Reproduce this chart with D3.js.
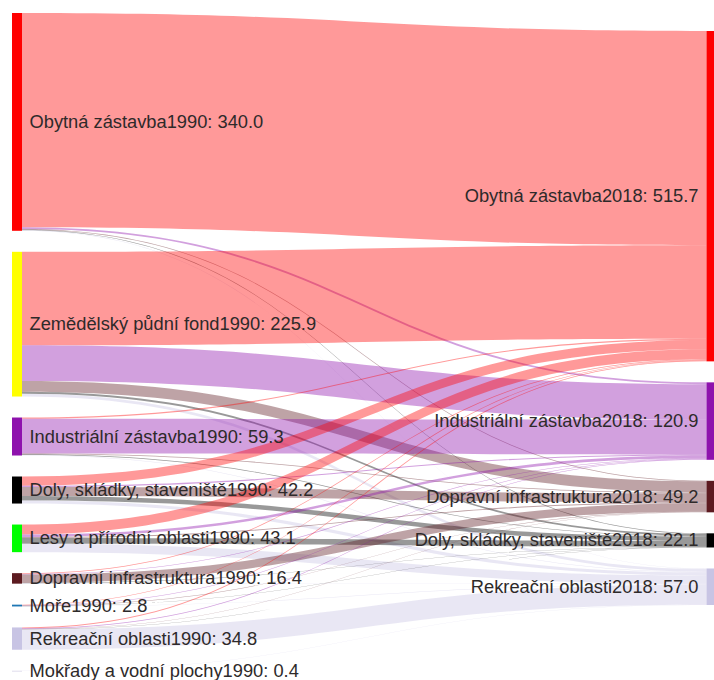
<!DOCTYPE html>
<html>
<head>
<meta charset="utf-8">
<script src="https://cdn.jsdelivr.net/npm/d3@7"></script>
<style>
  body { margin: 0; background: #fff; }
  svg text { font-family: "Liberation Sans", Arial, sans-serif; }
</style>
</head>
<body>
<svg id="chart" width="714" height="680"></svg>
<script>
// Land-use categories in 1990 (left column) and 2018 (right column)
const sources1990 = [
  "Obytná zástavba1990",
  "Zemědělský půdní fond1990",
  "Industriální zástavba1990",
  "Doly, skládky, staveniště1990",
  "Lesy a přírodní oblasti1990",
  "Dopravní infrastruktura1990",
  "Moře1990",
  "Rekreační oblasti1990",
  "Mokřady a vodní plochy1990"
];
const sourceColors = ["#ff0000", "#ffff00", "#8e12ad", "#000000", "#00ff00", "#5c1a20", "#1f77b4", "#c8c4e4", "#d6d4e8"];

const targets2018 = [
  "Obytná zástavba2018",
  "Industriální zástavba2018",
  "Dopravní infrastruktura2018",
  "Doly, skládky, staveniště2018",
  "Rekreační oblasti2018"
];
const targetColors = ["#ff0000", "#8e12ad", "#5c1a20", "#000000", "#c8c4e4"];

// Area moved from each 1990 category (row) into each 2018 category (column)
const flowsObytna      = [334.5,  2.8,  1.0, 1.0,  0.7];
const flowsZemedelsky  = [146.0, 55.5, 17.1, 2.8,  4.5];
const flowsIndustrialni= [  1.8, 54.2,  1.5, 1.0,  0.8];
const flowsDoly        = [ 14.5,  1.8, 14.0, 7.0,  4.9];
const flowsLesy        = [ 15.5,  4.0,  1.5, 9.0, 13.1];
const flowsDopravni    = [  1.2,  1.0, 13.0, 0.7,  0.5];
const flowsMore        = [  0.8,  0.7,  0.5, 0.3,  0.5];
const flowsRekreacni   = [  1.4,  0.9,  0.6, 0.3, 31.6];
const flowsMokrady     = [  0.0,  0.0,  0.0, 0.0,  0.4];

const flowMatrix = [flowsObytna, flowsZemedelsky, flowsIndustrialni, flowsDoly,
  flowsLesy, flowsDopravni, flowsMore, flowsRekreacni, flowsMokrady];

// ---- layout ----
const svg = d3.select("#chart");
const nodeWidth = 10;
const nodePad = 21;
const leftX0 = 12, rightX0 = 706.5;
const leftTop = 13, leftBottom = 671, rightTop = 31;

const sourceTotals = flowMatrix.map(r => d3.sum(r));
const targetTotals = targets2018.map((_, j) => d3.sum(flowMatrix, r => r[j]));
const grandTotal = d3.sum(sourceTotals);

const usable = (leftBottom - leftTop) - nodePad * (sources1990.length - 1);
const h = d3.scaleLinear().domain([0, grandTotal]).range([0, usable]);

function stack(totals, top) {
  let y = top;
  return totals.map(v => {
    const n = { y0: y, y1: y + h(v), value: v };
    y = n.y1 + nodePad;
    return n;
  });
}
const leftNodes = stack(sourceTotals, leftTop);
const rightNodes = stack(targetTotals, rightTop);

// link end positions: ordered by target within a source, by source within a target
const links = [];
const srcOffset = leftNodes.map(n => n.y0);
const tgtOffset = rightNodes.map(n => n.y0);
flowMatrix.forEach((row, i) => {
  row.forEach((v, j) => {
    if (v <= 0) return;
    links.push({ i, j, v, sy0: srcOffset[i], ty0: 0 });
    srcOffset[i] += h(v);
  });
});
for (let j = 0; j < targets2018.length; j++) {
  links.filter(l => l.j === j).sort((a, b) => a.i - b.i).forEach(l => {
    l.ty0 = tgtOffset[j];
    tgtOffset[j] += h(l.v);
  });
}

const lx = leftX0 + nodeWidth, rx = rightX0, xm = (lx + rx) / 2;
function ribbon(l) {
  const w = h(l.v);
  const p = d3.path();
  p.moveTo(lx, l.sy0);
  p.bezierCurveTo(xm, l.sy0, xm, l.ty0, rx, l.ty0);
  p.lineTo(rx, l.ty0 + w);
  p.bezierCurveTo(xm, l.ty0 + w, xm, l.sy0 + w, lx, l.sy0 + w);
  p.closePath();
  return p.toString();
}

svg.append("g").selectAll("path")
  .data(links)
  .join("path")
  .attr("d", ribbon)
  .attr("fill", d => targetColors[d.j])
  .attr("fill-opacity", 0.4);

// nodes
const minH = 0.8;
svg.append("g").selectAll("rect")
  .data(leftNodes)
  .join("rect")
  .attr("x", leftX0).attr("width", nodeWidth)
  .attr("y", d => d.y0)
  .attr("height", d => Math.max(minH, d.y1 - d.y0))
  .attr("fill", (d, i) => sourceColors[i]);

svg.append("g").selectAll("rect")
  .data(rightNodes)
  .join("rect")
  .attr("x", rightX0).attr("width", nodeWidth)
  .attr("y", d => d.y0)
  .attr("height", d => Math.max(minH, d.y1 - d.y0))
  .attr("fill", (d, i) => targetColors[i]);

// labels
const labelStyle = sel => sel
  .attr("font-size", 18.3)
  .attr("fill", "#2e2a2a")
  .attr("dominant-baseline", "central");

svg.append("g").selectAll("text")
  .data(leftNodes)
  .join("text")
  .attr("x", leftX0 + nodeWidth + 7.5)
  .attr("y", d => (d.y0 + d.y1) / 2 - 0.5)
  .text((d, i) => `${sources1990[i]}: ${d.value.toFixed(1)}`)
  .call(labelStyle);

svg.append("g").selectAll("text")
  .data(rightNodes)
  .join("text")
  .attr("x", rightX0 - 8)
  .attr("y", d => (d.y0 + d.y1) / 2 - 0.5)
  .attr("text-anchor", "end")
  .text((d, i) => `${targets2018[i]}: ${d.value.toFixed(1)}`)
  .call(labelStyle);
</script>
</body>
</html>
